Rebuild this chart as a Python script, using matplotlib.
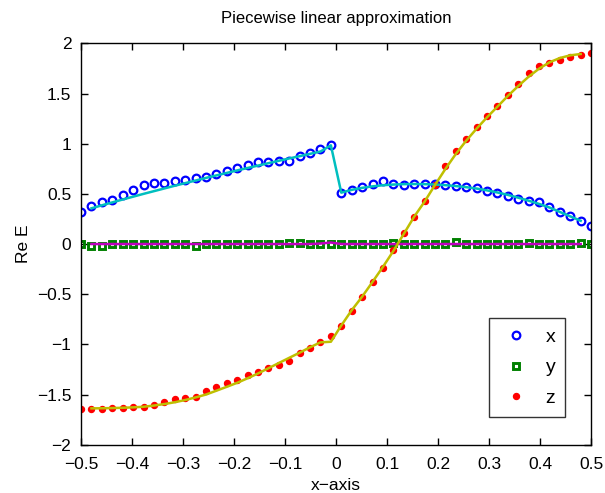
import numpy as np
import matplotlib
matplotlib.use("Agg")
import matplotlib.pyplot as plt

# sample positions: 50 evenly spaced points on [-0.5, 0.5]
n_points = 50
x_min, x_max = -0.5, 0.5

# marker data (noisy samples)
ex_vals = [0.322, 0.379, 0.422, 0.439, 0.489, 0.535, 0.588, 0.605, 0.611, 0.625,
           0.638, 0.661, 0.668, 0.698, 0.725, 0.761, 0.791, 0.815, 0.818, 0.825,
           0.831, 0.877, 0.910, 0.947, 0.984,
           0.512, 0.538, 0.568, 0.598, 0.628, 0.598, 0.591, 0.595, 0.595, 0.595,
           0.591, 0.581, 0.571, 0.555, 0.528, 0.505, 0.477, 0.449, 0.427, 0.420,
           0.372, 0.322, 0.275, 0.232, 0.184]
ey_vals = [0.000, -0.015, -0.015, 0.000, 0.000, 0.000, 0.000, 0.000, 0.000, 0.000,
           0.000, -0.015, 0.000, 0.000, 0.000, 0.000, 0.000, 0.000, 0.000, 0.000,
           0.012, 0.012, 0.000, 0.000, 0.000,
           0.000, 0.000, 0.000, 0.000, 0.000, 0.012, 0.000, 0.000, 0.000, 0.000,
           0.000, 0.018, 0.000, 0.000, 0.000, 0.000, 0.000, 0.000, 0.015, 0.000,
           0.000, 0.000, 0.000, 0.010, 0.000]
ez_vals = [-1.642, -1.642, -1.648, -1.638, -1.635, -1.628, -1.625, -1.602, -1.575, -1.548,
           -1.532, -1.522, -1.466, -1.429, -1.389, -1.353, -1.309, -1.276, -1.239, -1.203,
           -1.166, -1.087, -1.037, -0.980, -0.920,
           -0.818, -0.670, -0.528, -0.379, -0.239, -0.060, 0.107, 0.266, 0.429, 0.590,
           0.775, 0.924, 1.050, 1.170, 1.273, 1.379, 1.486, 1.595, 1.705, 1.778,
           1.808, 1.834, 1.864, 1.881, 1.901]

# piecewise linear approximation (nodes at samples 1..48)
ax_line = [0.356, 0.386, 0.415, 0.444, 0.472, 0.500, 0.527, 0.554, 0.581, 0.607,
           0.633, 0.659, 0.684, 0.709, 0.734, 0.758, 0.782, 0.806, 0.830, 0.853,
           0.876, 0.899, 0.922, 0.984,
           0.512, 0.540, 0.560, 0.575, 0.586, 0.593, 0.597, 0.598, 0.597, 0.593,
           0.587, 0.578, 0.567, 0.553, 0.535, 0.514, 0.490, 0.462, 0.432, 0.400,
           0.364, 0.320, 0.276, 0.232]
ay_line = [0.0] * 22 + [0.005, 0.015] + [0.0] * 24
az_line = [-1.638, -1.637, -1.635, -1.632, -1.628, -1.622, -1.610, -1.595, -1.577, -1.555,
           -1.529, -1.500, -1.462, -1.423, -1.383, -1.338, -1.290, -1.238, -1.186, -1.134,
           -1.083, -1.029, -0.980, -0.974,
           -0.812, -0.660, -0.525, -0.378, -0.228, -0.070, 0.100, 0.272, 0.422, 0.588,
           0.748, 0.897, 1.030, 1.150, 1.263, 1.369, 1.476, 1.575, 1.668, 1.748,
           1.811, 1.854, 1.881, 1.894]

series_labels = ["x", "y", "z"]
title_text = "Piecewise linear approximation"
xlabel_text = "x\u2212axis"
ylabel_text = "Re E"
xticks = [-0.5, -0.4, -0.3, -0.2, -0.1, 0, 0.1, 0.2, 0.3, 0.4, 0.5]
yticks = [-2, -1.5, -1, -0.5, 0, 0.5, 1, 1.5, 2]

xs = np.linspace(x_min, x_max, n_points)
xs_line = xs[1:-1]

plt.rcParams['font.family'] = ['Liberation Sans', 'DejaVu Sans']
fig = plt.figure(figsize=(6.05, 4.93), dpi=100)
ax = fig.add_axes([0.134, 0.098, 0.843, 0.814])

h1, = ax.plot(xs, ex_vals, 'o', color=(0, 0, 1), mfc='none', mew=1.6, ms=5.5, label=series_labels[0])
h2, = ax.plot(xs, ey_vals, 's', color=(0, 0.5, 0), mfc='none', mew=2.1, ms=3.9, label=series_labels[1])
h3, = ax.plot(xs, ez_vals, 'o', color=(1, 0, 0), mfc=(1, 0, 0), mec=(1, 0, 0), ms=4.3, label=series_labels[2])

ax.plot(xs_line, ax_line, '-', color=(0, 0.75, 0.75), lw=1.8)
ax.plot(xs_line, ay_line, '-', color=(0.75, 0, 0.75), lw=1.8)
ax.plot(xs_line, az_line, '-', color=(0.75, 0.75, 0), lw=1.8)

ax.set_xlim(x_min, x_max)
ax.set_ylim(-2, 2)
ax.set_xticks(xticks)
ax.set_xticklabels([("%g" % t).replace("-", "\u2212") for t in xticks])
ax.set_yticks(yticks)
ax.set_yticklabels([("%g" % t).replace("-", "\u2212") for t in yticks])
ax.tick_params(direction='in', top=True, right=True, length=5, width=1, labelsize=12.5)
ax.tick_params(axis='x', pad=9)
ax.tick_params(axis='y', pad=7)
for s in ax.spines.values():
    s.set_linewidth(1.0)

ax.set_title(title_text, fontsize=12, pad=15)
ax.set_xlabel(xlabel_text, fontsize=12.5, labelpad=4)
ax.set_ylabel(ylabel_text, fontsize=12.5, labelpad=4)

leg = ax.legend(handles=[h1, h2, h3], loc='lower right', bbox_to_anchor=(0.949, 0.069),
                fontsize=14, frameon=True, fancybox=False, edgecolor='black',
                handlelength=1.8, handletextpad=0.6, labelspacing=0.68, borderpad=0.5,
                borderaxespad=0)
leg.get_frame().set_linewidth(1.0)

fig.savefig("out.png", dpi=100)
